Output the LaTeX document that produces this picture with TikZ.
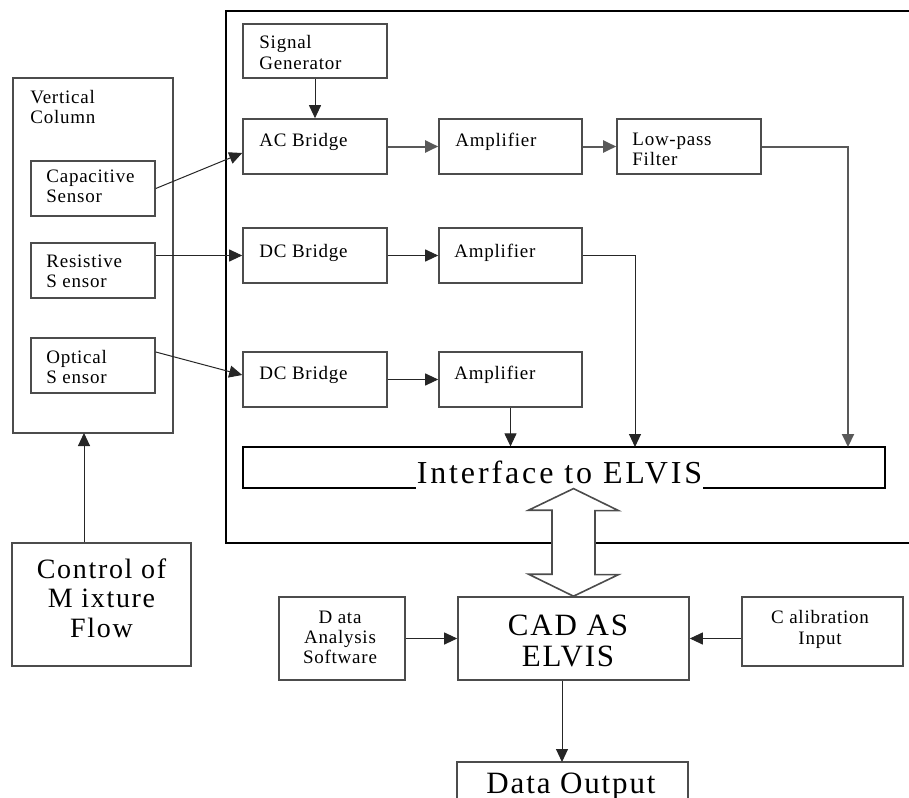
\documentclass[tikz,border=0pt]{standalone}
\usepackage{fontspec}
\setmainfont{Liberation Serif}
\newfontfamily\smallfam[LetterSpace=4]{Liberation Serif}
\newfontfamily\bigfam[LetterSpace=6]{Liberation Serif}
\newfontfamily\widefam[LetterSpace=9]{Liberation Serif}
\usetikzlibrary{arrows.meta}
\tikzset{
  blk/.style={draw=black!70,line width=0.8pt,rectangle,inner sep=0pt},
  frm/.style={draw=black,line width=0.6pt},
  txt/.style={font=\smallfam\fontsize{9.5}{10}\selectfont,inner sep=0pt},
  bigtxt/.style={font=\bigfam\fontsize{15.5}{15.5}\selectfont,inner sep=0pt},
  ctrltxt/.style={font=\bigfam\fontsize{14}{14.75}\selectfont,inner sep=0pt},
  conn/.style={draw=black!85,line width=0.5pt,-{Triangle[length=6.5pt,width=6pt]}},
  heavy/.style={draw=black!65,line width=1pt,-{Triangle[length=6.5pt,width=6pt]}},
}
\begin{document}
\begin{tikzpicture}[x=1pt,y=1pt]
  \useasboundingbox (0,0) rectangle (454.5,-398.5);
  \draw[frm] (460,-5.5) -- (113,-5.5) -- (113,-271.5) -- (460,-271.5);
  \node[blk,minimum width=80pt,minimum height=177.5pt] (vcol) at (46.5,-127.75) {};
  \node[txt,anchor=base west,align=left] (vcolt) at (15,-62) {Vertical\\Column};
  \node[blk,minimum width=62pt,minimum height=27.5pt] (cap) at (46.5,-94.25) {};
  \node[txt,anchor=base west,align=left] (capt) at (23,-101) {Capacitive\\Sensor};
  \node[blk,minimum width=62pt,minimum height=27.5pt] (res) at (46.5,-135.25) {};
  \node[txt,anchor=base west,align=left] (rest) at (23,-143.5) {Resistive\\S ensor};
  \node[blk,minimum width=62pt,minimum height=27.5pt] (opt) at (46.5,-182.75) {};
  \node[txt,anchor=base west,align=left] (optt) at (23,-191.5) {Optical\\S ensor};
  \node[blk,minimum width=89.5pt,minimum height=61.5pt] (ctrl) at (50.75,-302.25) {};
  \node[ctrltxt,anchor=base,align=center] (ctrlt) at (50.75,-318.5) {Control of\\M ixture\\Flow};
  \node[blk,minimum width=72pt,minimum height=27pt] (sig) at (157.5,-25.5) {};
  \node[txt,anchor=base west,align=left] (sigt) at (129.5,-34.5) {Signal\\Generator};
  \node[blk,minimum width=72pt,minimum height=27.5pt] (acb) at (157.5,-73.25) {};
  \node[txt,anchor=base west] (acbt) at (129.5,-73) {AC Bridge};
  \node[blk,minimum width=71.5pt,minimum height=27.5pt] (amp1) at (255.25,-73.25) {};
  \node[txt,anchor=base west] (amp1t) at (227.5,-73) {Amplifier};
  \node[blk,minimum width=72pt,minimum height=27.5pt] (lpf) at (344.5,-73.25) {};
  \node[txt,anchor=base west,align=left] (lpft) at (316,-82.5) {Low-pass\\Filter};
  \node[blk,minimum width=72pt,minimum height=27.5pt] (dcb2) at (157.5,-127.75) {};
  \node[txt,anchor=base west] (dcb2t) at (129.5,-128.5) {DC Bridge};
  \node[blk,minimum width=71.5pt,minimum height=27.5pt] (amp2) at (255.25,-127.75) {};
  \node[txt,anchor=base west] (amp2t) at (227,-128.5) {Amplifier};
  \node[blk,minimum width=72pt,minimum height=27.5pt] (dcb3) at (157.5,-189.75) {};
  \node[txt,anchor=base west] (dcb3t) at (129.5,-189.5) {DC Bridge};
  \node[blk,minimum width=71.5pt,minimum height=27.5pt] (amp3) at (255.25,-189.75) {};
  \node[txt,anchor=base west] (amp3t) at (227,-189.5) {Amplifier};
  \node[frm,rectangle,inner sep=0pt,minimum width=321pt,minimum height=20.5pt] (iface) at (282,-233.75) {};
  \node[font=\widefam\fontsize{16}{16}\selectfont,anchor=base,fill=white,inner sep=0.5pt,text depth=2.5pt] (ifacet) at (279.75,-241.5) {Interface to ELVIS};
  \node[blk,minimum width=115.5pt,minimum height=41.5pt] (cad) at (286.75,-319.25) {};
  \node[bigtxt,anchor=base,align=center] (cadt) at (284,-333) {CAD AS\\ELVIS};
  \node[blk,minimum width=63pt,minimum height=41.5pt] (das) at (171,-319.25) {};
  \node[txt,anchor=base,align=center] (dast) at (170,-331.5) {D ata\\Analysis\\Software};
  \node[blk,minimum width=80.5pt,minimum height=34.5pt] (cal) at (411.25,-315.75) {};
  \node[txt,anchor=base,align=center,font=\smallfam\fontsize{9.5}{10.5}\selectfont] (calt) at (410,-322) {C alibration\\Input};
  \node[blk,minimum width=115.5pt,minimum height=30pt] (dout) at (286.25,-396) {};
  \node[bigtxt,anchor=base] (doutt) at (285.5,-396.5) {Data Output};
  \coordinate (lpfd) at (424,-223.5);
  \coordinate (a2d) at (317.5,-223.5);
  \coordinate (vin) at (42,-216.5);
  \coordinate (cdo) at (281,-381);
  \draw[conn] (cap.east) -- ([yshift=-3.25pt]acb.west);
  \draw[conn] (res.east |- dcb2.west) -- (dcb2.west);
  \draw[conn] ([yshift=6.75pt]opt.east) -- ([yshift=2.25pt]dcb3.west);
  \draw[conn] (sig.south) -- (acb.north);
  \draw[heavy] (acb.east) -- (amp1.west);
  \draw[heavy] (amp1.east) -- (lpf.west);
  \draw[heavy] (lpf.east) -| (lpfd);
  \draw[conn] (dcb2.east) -- (amp2.west);
  \draw[conn] (amp2.east) -| (a2d);
  \draw[conn] (dcb3.east) -- (amp3.west);
  \draw[conn] (amp3.south) -- (amp3.south |- iface.north);
  \draw[conn] (ctrl.north -| vin) -- (vin);
  \draw[conn] (das.east) -- (cad.west);
  \draw[conn] (cad.east -| cal.west) -- (cad.east);
  \draw[conn] (cad.south -| cdo) -- (cdo);
  \draw[blk,fill=white,line join=miter] (cad.north |- iface.south) -- ++(22.5,-11) -- ++(-11.75,0) -- ++(0,-32) -- ++(11.75,0) -- (cad.north) -- ++(-22.5,11) -- ++(11.75,0) -- ++(0,32) -- ++(-11.75,0) -- cycle;
\end{tikzpicture}
\end{document}
